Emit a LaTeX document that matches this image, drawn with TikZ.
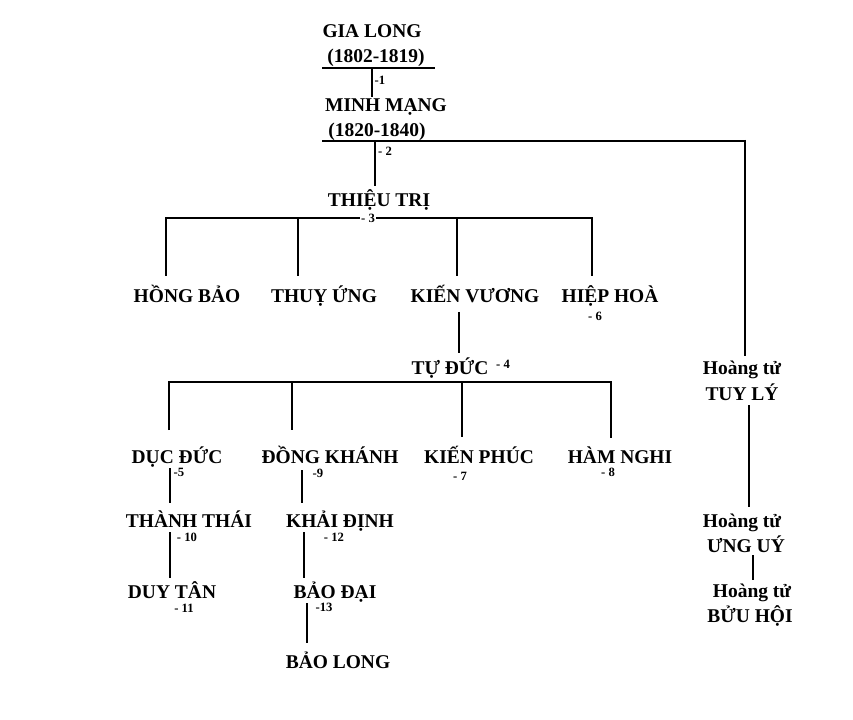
\documentclass[tikz,border=0pt]{standalone}
\usepackage{fontspec}
\setmainfont{Liberation Serif}
\begin{document}
\begin{tikzpicture}[x=0.75pt,y=-0.75pt]
\tikzset{
  kname/.style={font=\fontsize{14.6}{16}\selectfont\bfseries, inner sep=0pt, anchor=base},
  knum/.style={font=\fontsize{9.5}{11}\selectfont\bfseries, inner sep=0.5pt, anchor=center},
  heavy/.style={line width=2.2pt},
  mid/.style={line width=1.6pt},
  light/.style={line width=0.8pt}
}
\useasboundingbox (0,0) rectangle (853,720);
\fill[white] (0,0) rectangle (853,720);

% ---------- coordinates ----------
\coordinate (u1) at (322,68);  \coordinate (u2) at (435,68);
\coordinate (ga) at (372,68);  \coordinate (gb) at (372,97);
\coordinate (m1) at (322,141); \coordinate (m2) at (745,141);
\coordinate (m2a) at (745,140); \coordinate (m3) at (745,356);
\coordinate (ta) at (375,142); \coordinate (tb) at (375,186);
\coordinate (hbV) at (166,276); \coordinate (hbT) at (166,218);
\coordinate (hhT) at (592,218); \coordinate (hhV) at (592,276);
\coordinate (tuT) at (298,218); \coordinate (tuV) at (298,276);
\coordinate (kvT) at (457,218); \coordinate (kvV) at (457,276);
\coordinate (kva) at (459,312); \coordinate (kvb) at (459,353);
\coordinate (ddV) at (169,430); \coordinate (ddT) at (169,382);
\coordinate (hnT) at (611,382); \coordinate (hnV) at (611,438);
\coordinate (dkT) at (292,382); \coordinate (dkV) at (292,430);
\coordinate (kpT) at (462,382); \coordinate (kpV) at (462,437);
\coordinate (dda) at (170,468); \coordinate (ddb) at (170,503);
\coordinate (dka) at (302,470); \coordinate (dkb) at (302,503);
\coordinate (tha) at (170,532); \coordinate (thb) at (170,578);
\coordinate (kda) at (304,532); \coordinate (kdb) at (304,578);
\coordinate (bda) at (307,603); \coordinate (bdb) at (307,643);
\coordinate (tya) at (749,405); \coordinate (tyb) at (749,507);
\coordinate (uua) at (753,555); \coordinate (uub) at (753,580);

% ---------- connectors ----------
\draw[mid] (u1) -- (u2);
\draw[heavy] (ga) -- (gb);
\draw[light] (m1) -- (m2);
\draw[heavy] (m2a) -- (m3);
\draw[heavy] (ta) -- (tb);
\draw[heavy] (hbV) -- (hbT) -- (hhT) -- (hhV);
\draw[mid] (tuT) -- (tuV);
\draw[mid] (kvT) -- (kvV);
\draw[heavy] (kva) -- (kvb);
\draw[heavy] (ddV) -- (ddT) -- (hnT) -- (hnV);
\draw[heavy] (dkT) -- (dkV);
\draw[light] (kpT) -- (kpV);
\draw[heavy] (dda) -- (ddb);
\draw[heavy] (dka) -- (dkb);
\draw[heavy] (tha) -- (thb);
\draw[heavy] (kda) -- (kdb);
\draw[light] (bda) -- (bdb);
\draw[light] (tya) -- (tyb);
\draw[heavy] (uua) -- (uub);

% ---------- names ----------
\node[kname] (gl1) at (372,38) {GIA LONG};
\node[kname] (gl2) at (376,63) {(1802-1819)};
\node[kname] (mm1) at (386,112) {MINH MẠNG};
\node[kname] (mm2) at (377,137) {(1820-1840)};
\node[kname] (tt) at (379,207) {THIỆU TRỊ};
\node[kname] (hb) at (187,303) {HỒNG BẢO};
\node[kname] (tu) at (324,303) {THUỴ ỨNG};
\node[kname] (kv) at (475,303) {KIẾN VƯƠNG};
\node[kname] (hh) at (610,303) {HIỆP HOÀ};
\node[kname] (td) at (450,374) {TỰ ĐỨC};
\node[kname] (dd) at (177,463) {DỤC ĐỨC};
\node[kname] (dk) at (330,463) {ĐỒNG KHÁNH};
\node[kname] (kp) at (479,463) {KIẾN PHÚC};
\node[kname] (hn) at (620,463) {HÀM NGHI};
\node[kname] (th) at (189,527) {THÀNH THÁI};
\node[kname] (kd) at (340,527) {KHẢI ĐỊNH};
\node[kname] (dt) at (172,598) {DUY TÂN};
\node[kname] (bd) at (335,598) {BẢO ĐẠI};
\node[kname] (bl) at (338,668) {BẢO LONG};
\node[kname] (ht1) at (742,374) {Hoàng tử};
\node[kname] (ty) at (742,400) {TUY LÝ};
\node[kname] (ht2) at (742,527) {Hoàng tử};
\node[kname] (uu) at (746,552) {ƯNG UÝ};
\node[kname] (ht3) at (752,597) {Hoàng tử};
\node[kname] (bh) at (750,622) {BỬU HỘI};

% ---------- order numbers ----------
\node[knum] (n1) at (380,80) {-1};
\node[knum] (n2) at (385,151) {- 2};
\node[knum, fill=white] (n3) at (368,218) {- 3};
\node[knum] (n4) at (503,364) {- 4};
\node[knum] (n5) at (179,472) {-5};
\node[knum] (n6) at (595,316) {- 6};
\node[knum] (n7) at (460,476) {- 7};
\node[knum] (n8) at (608,472) {- 8};
\node[knum] (n9) at (318,473) {-9};
\node[knum] (n10) at (187,537) {- 10};
\node[knum] (n11) at (184,608) {- 11};
\node[knum] (n12) at (334,537) {- 12};
\node[knum] (n13) at (324,607) {-13};
\end{tikzpicture}
\end{document}
